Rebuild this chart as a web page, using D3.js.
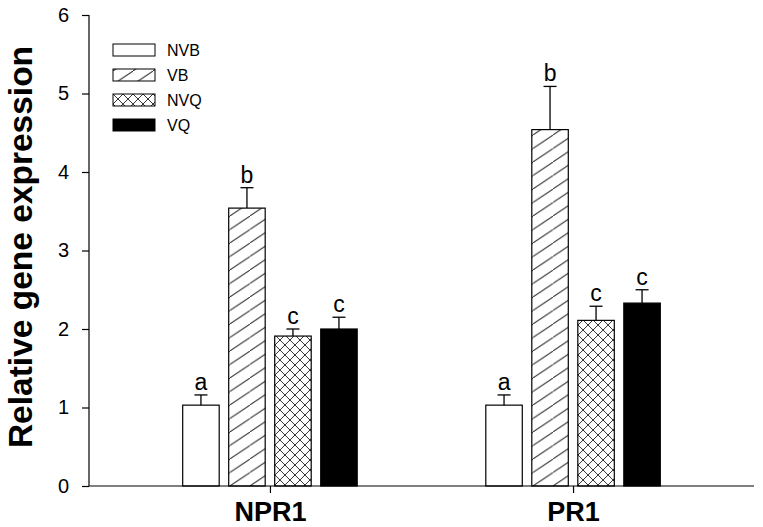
<!DOCTYPE html>
<html>
<head>
<meta charset="UTF-8">
<script src="https://d3js.org/d3.v7.min.js"></script>
<style>
  body { margin: 0; background: #fff; }
  text { font-family: "Liberation Sans", Arial, sans-serif; }
</style>
</head>
<body>
<svg id="chart" width="763" height="527"></svg>
<script>
// data
var genes = ["NPR1", "PR1"];
var treatments = ["NVB", "VB", "NVQ", "VQ"];
var means = {
  NPR1: [1.03, 3.54, 1.91, 2.00],
  PR1:  [1.03, 4.54, 2.11, 2.33]
};
var errors = {
  NPR1: [0.13, 0.26, 0.09, 0.15],
  PR1:  [0.13, 0.55, 0.18, 0.17]
};
var letters = {
  NPR1: ["a", "b", "c", "c"],
  PR1:  ["a", "b", "c", "c"]
};
var yTicks = [0, 1, 2, 3, 4, 5, 6];

var svg = d3.select("#chart");

// patterns for the fills
var defs = svg.append("defs");
var dw = 20, dh = 13.5;
var diag = defs.append("pattern")
  .attr("id", "diag")
  .attr("patternUnits", "userSpaceOnUse")
  .attr("width", dw).attr("height", dh);
diag.append("rect").attr("width", dw).attr("height", dh).attr("fill", "#fff");
diag.append("path")
  .attr("d", "M0," + dh + " L" + dw + ",0")
  .attr("stroke", "#333").attr("stroke-width", 1);

var cw = 10;
var cross = defs.append("pattern")
  .attr("id", "cross")
  .attr("patternUnits", "userSpaceOnUse")
  .attr("width", cw).attr("height", cw);
cross.append("rect").attr("width", cw).attr("height", cw).attr("fill", "#fff");
cross.append("path")
  .attr("d", "M0," + cw + " L" + cw + ",0 M0,0 L" + cw + "," + cw)
  .attr("stroke", "#333").attr("stroke-width", 1);

var fills = ["#fff", "url(#diag)", "url(#cross)", "#000"];

var plotLeft = 89, plotRight = 754, plotTop = 15, plotBottom = 486;

var y = d3.scaleLinear().domain([0, 6]).range([plotBottom, plotTop]);
var x0 = d3.scalePoint().domain(genes).range([plotLeft, plotRight]).padding(0.597);
var x1 = d3.scaleBand().domain(treatments).range([-87.25, 87.25])
  .paddingInner(0.207).paddingOuter(0);

// bars
genes.forEach(function(g) {
  var grp = svg.append("g").attr("transform", "translate(" + x0(g) + ",0)");
  treatments.forEach(function(t, i) {
    var v = means[g][i], e = errors[g][i];
    var bx = x1(t), bw = x1.bandwidth(), cx = bx + bw / 2;
    grp.append("rect")
      .attr("x", bx).attr("y", y(v))
      .attr("width", bw).attr("height", y(0) - y(v))
      .attr("fill", fills[i])
      .attr("stroke", "#000").attr("stroke-width", 1.2);
    // upper error bar
    grp.append("line")
      .attr("x1", cx).attr("x2", cx)
      .attr("y1", y(v)).attr("y2", y(v + e))
      .attr("stroke", "#000").attr("stroke-width", 1.3);
    grp.append("line")
      .attr("x1", cx - 6.5).attr("x2", cx + 6.5)
      .attr("y1", y(v + e)).attr("y2", y(v + e))
      .attr("stroke", "#000").attr("stroke-width", 1.3);
    grp.append("text")
      .attr("x", cx).attr("y", y(v + e) - 5)
      .attr("text-anchor", "middle")
      .attr("font-size", 23)
      .text(letters[g][i]);
  });
});

// y axis
var yAxis = svg.append("g")
  .attr("transform", "translate(" + plotLeft + ",0)")
  .call(d3.axisLeft(y).tickValues(yTicks).tickFormat(d3.format("d"))
    .tickSize(7).tickPadding(13));
yAxis.select(".domain").attr("d", "M0," + plotTop + "V" + plotBottom).attr("stroke-width", 1.2);
yAxis.selectAll(".tick line").attr("stroke-width", 1.2);
yAxis.selectAll("text").attr("font-size", 20).attr("fill", "#000")
  .style("font-family", "'Liberation Sans', Arial, sans-serif");

// x axis
var xAxis = svg.append("g")
  .attr("transform", "translate(0," + plotBottom + ")")
  .call(d3.axisBottom(x0).tickSize(7).tickPadding(6));
xAxis.select(".domain").attr("d", "M" + plotLeft + ",0H" + plotRight).attr("stroke-width", 1.2);
xAxis.selectAll(".tick line").attr("stroke-width", 1.2);
xAxis.selectAll("text").attr("font-size", 27).attr("font-weight", "bold")
  .attr("fill", "#000").attr("dy", "0.8em")
  .style("font-family", "'Liberation Sans', Arial, sans-serif");

// y title
svg.append("text")
  .attr("transform", "translate(32,247) rotate(-90)")
  .attr("text-anchor", "middle")
  .attr("font-size", 33.5).attr("font-weight", "bold")
  .text("Relative gene expression");

// legend
var legend = svg.append("g").attr("transform", "translate(113,44)");
treatments.forEach(function(t, i) {
  legend.append("rect")
    .attr("x", 0).attr("y", i * 25)
    .attr("width", 42).attr("height", 12)
    .attr("fill", fills[i])
    .attr("stroke", "#000").attr("stroke-width", 1);
  legend.append("text")
    .attr("x", 54).attr("y", i * 25 + 12)
    .attr("font-size", 16)
    .text(t);
});
</script>
</body>
</html>
